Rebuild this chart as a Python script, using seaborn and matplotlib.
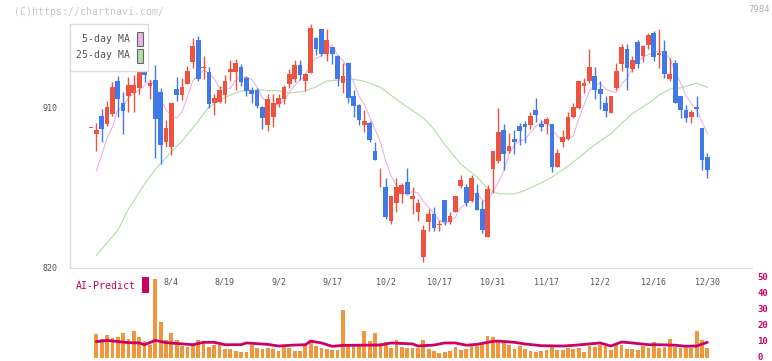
import numpy as np
import pandas as pd
import matplotlib
matplotlib.use("Agg")
import matplotlib.pyplot as plt
from matplotlib.patches import Rectangle
from matplotlib.transforms import blended_transform_factory
import seaborn as sns

# ---------------- data (first entry = partial bar at the left edge) ----------------
opens = [898.1, 895.1, 905.0, 900.5, 906.1, 924.5, 912.2, 916.2, 918.0, 920.9, 933.5,
         922.0, 925.1, 918.4, 890.2, 887.8, 920.1, 916.7, 922.9, 935.4, 947.5,
         931.8, 929.6, 912.2, 913.0, 916.7, 929.7, 929.7, 932.5, 926.0, 919.5,
         919.5, 910.0, 899.9, 904.2, 911.8, 914.6, 923.0, 925.7, 933.3, 924.5,
         929.2, 948.4, 953.6, 939.8, 943.4, 938.5, 923.2, 934.8, 916.2, 911.1,
         899.9, 900.9, 885.4, 875.7, 865.1, 846.3, 856.1, 861.6, 868.1, 858.7,
         851.5, 826.0, 845.9, 850.2, 843.9, 857.8, 845.9, 851.5, 865.8, 865.3,
         857.7, 861.9, 853.0, 837.5, 875.3, 880.0, 897.1, 885.2, 892.1, 899.5,
         900.3, 899.9, 908.3, 900.5, 900.3, 900.5, 876.6, 890.4, 892.1, 904.6,
         909.3, 921.9, 924.5, 927.3, 919.9, 912.2, 906.8, 920.5, 934.2, 942.4,
         931.1, 946.3, 938.5, 944.7, 951.2, 938.9, 941.3, 925.7, 934.8, 916.2,
         908.3, 904.6, 910.0, 898.4, 882.2]
highs = [898.1, 900.9, 908.9, 913.4, 924.0, 927.6, 918.4, 926.8, 927.9, 937.4, 935.7,
         925.1, 933.5, 920.6, 902.7, 912.2, 926.8, 926.2, 932.9, 948.8, 949.7,
         938.5, 932.4, 917.3, 921.7, 927.9, 936.3, 936.8, 934.0, 927.3, 921.3,
         920.6, 910.6, 917.3, 917.3, 917.3, 922.3, 931.1, 936.3, 936.3, 928.8,
         956.4, 949.3, 953.6, 953.6, 943.7, 938.8, 934.6, 935.3, 919.5, 911.7,
         908.3, 902.2, 890.6, 875.9, 870.1, 860.2, 870.3, 867.5, 875.9, 865.1,
         858.4, 844.0, 853.0, 853.9, 846.8, 858.0, 851.5, 860.2, 872.0, 867.0,
         872.0, 867.0, 858.0, 866.4, 885.4, 909.6, 900.5, 895.7, 897.1, 901.3,
         902.2, 907.2, 915.2, 903.0, 904.6, 900.5, 886.8, 897.1, 907.4, 912.4,
         924.8, 926.4, 942.4, 932.5, 924.5, 916.2, 916.2, 934.6, 945.2, 945.2,
         938.5, 947.5, 944.7, 951.5, 952.5, 953.6, 947.5, 937.6, 936.3, 916.2,
         911.1, 908.3, 916.2, 898.4, 884.5]
lows = [898.1, 885.4, 890.6, 899.4, 905.0, 904.4, 894.9, 907.2, 907.2, 917.3, 924.0,
        914.5, 881.5, 878.1, 887.6, 883.2, 913.4, 913.9, 922.9, 931.8, 924.5,
        925.7, 909.4, 905.5, 912.2, 912.2, 924.5, 919.5, 921.7, 916.2, 912.2,
        909.4, 897.7, 896.8, 899.0, 910.0, 911.7, 920.6, 924.0, 925.1, 919.1,
        929.0, 939.1, 938.5, 935.9, 934.0, 921.7, 918.0, 912.1, 904.6, 899.9,
        896.0, 890.6, 880.4, 865.1, 847.4, 844.6, 851.5, 856.5, 861.4, 850.0,
        846.3, 823.5, 840.9, 840.9, 840.9, 844.0, 844.6, 851.5, 864.7, 854.8,
        856.9, 852.6, 839.7, 837.5, 861.8, 878.7, 874.8, 884.1, 883.7, 889.0,
        890.0, 897.7, 901.8, 896.6, 895.1, 873.8, 876.6, 887.5, 891.3, 904.1,
        908.7, 918.0, 923.2, 914.3, 908.9, 904.6, 906.8, 919.5, 930.1, 919.5,
        929.7, 931.8, 935.4, 942.3, 935.7, 932.0, 926.0, 924.7, 912.1, 903.9,
        901.8, 900.9, 904.6, 874.8, 870.5]
closes = [898.1, 897.1, 897.9, 910.0, 921.2, 914.5, 907.8, 922.3, 922.3, 930.1, 927.9,
          923.4, 903.3, 888.8, 898.4, 912.2, 916.7, 921.2, 930.1, 944.1, 925.7,
          932.4, 911.7, 915.0, 919.5, 924.5, 931.2, 934.8, 924.1, 919.1, 917.3,
          910.6, 904.0, 914.5, 912.1, 915.0, 921.2, 928.3, 933.3, 927.9, 928.4,
          954.2, 942.3, 939.8, 947.5, 939.8, 925.7, 927.3, 914.8, 910.6, 902.7,
          902.3, 891.6, 880.4, 875.9, 848.7, 860.2, 865.3, 866.4, 861.5, 860.4,
          856.3, 841.2, 850.2, 842.5, 844.0, 845.9, 849.1, 860.2, 869.2, 856.5,
          870.5, 852.7, 841.2, 864.2, 885.4, 896.2, 883.9, 888.2, 890.4, 896.6,
          899.0, 905.0, 905.5, 899.0, 903.3, 876.6, 884.3, 893.2, 904.6, 909.9,
          924.5, 923.6, 932.5, 919.5, 917.1, 907.9, 916.2, 930.1, 943.5, 932.0,
          936.3, 934.0, 944.1, 950.2, 938.1, 940.4, 928.3, 928.4, 912.1, 908.3,
          904.0, 907.2, 909.1, 880.4, 874.8]
volumes = [np.nan, 15.0, 11.9, 14.4, 12.5, 13.1, 15.6, 11.9, 16.9, 13.1, 10.6, 8.1,
           49.4, 22.5, 11.3, 15.6, 11.3, 7.5, 6.9, 8.1, 11.3, 10.0, 6.9, 8.1, 8.1,
           5.6, 5.6, 4.4, 3.8, 3.8, 8.1, 6.3, 5.6, 6.3, 5.6, 4.4, 6.9, 6.3, 4.4,
           4.4, 8.1, 11.3, 7.5, 6.3, 5.6, 5.0, 5.0, 30.0, 7.5, 7.5, 7.5, 16.9,
           10.6, 15.6, 9.4, 10.0, 6.3, 11.3, 6.9, 6.3, 6.3, 6.3, 11.3, 5.6, 4.4,
           3.1, 3.8, 4.4, 6.9, 5.0, 5.6, 7.5, 7.5, 8.8, 13.8, 13.1, 11.3, 10.0,
           8.1, 5.6, 7.5, 5.6, 4.4, 3.8, 4.4, 5.0, 6.9, 5.0, 5.0, 6.3, 5.6, 6.3,
           3.8, 7.5, 6.9, 8.1, 7.5, 5.0, 8.1, 8.1, 5.6, 5.6, 5.0, 7.5, 6.3, 10.0,
           6.3, 6.9, 11.9, 6.9, 6.3, 6.3, 6.3, 16.9, 11.3, 6.3]

# 5-day MA values read at the first four bars (earlier closes are off-chart)
ma5_head = [874.2, 883.2, 892.7, 898.8]
# 25-day MA (bar position, value)
ma25_pos = [1, 3, 5, 7, 10, 12, 15, 17, 20, 22, 25, 28, 32, 35, 37, 40, 42, 44, 46, 49,
            51, 54, 56, 59, 62, 64, 66, 69, 72, 74, 76, 79, 81, 84, 86, 89, 91, 94, 97,
            99, 101, 104, 106, 108, 110, 113, 115]
ma25_val = [827, 834, 841, 853, 867, 875, 885, 891, 902, 910, 915.5, 919, 919.5, 919,
            917.7, 919, 921.3, 924.5, 925, 925.5, 924.4, 921, 916.5, 910, 904, 897.5,
            889, 878, 871, 864.5, 861.5, 861.4, 863.4, 867.6, 870.7, 877, 881.6, 889,
            895, 901, 906.3, 912, 916.7, 920, 920.7, 923.3, 921]
# AI-Predict line (bar position, value)
ai_pos = [1, 3, 7, 9, 10, 12, 14, 19, 21, 23, 25, 28, 29, 33, 35, 38, 40, 41, 43, 45,
          47, 54, 56, 60, 61, 64, 66, 68, 70, 72, 75, 76, 79, 81, 84, 88, 90, 92, 95,
          97, 99, 101, 104, 106, 109, 111, 113, 115]
ai_val = [10.2, 11, 9.6, 9.4, 8.3, 11, 9.6, 8.3, 9.8, 9.8, 8.3, 8.3, 9.4, 8.5, 7.5,
          8.1, 8.3, 10.6, 9.4, 7.3, 7.9, 8.1, 9.4, 8.8, 7.5, 8.1, 9.4, 9.4, 8.0, 8.5,
          10.4, 10.6, 9.8, 8.75, 7.7, 7.5, 7.9, 8.5, 9.4, 7.5, 10, 9.4, 8.3, 8.3, 8.0,
          7.3, 7.5, 9.8]
date_labels = ["8/4", "8/19", "9/2", "9/17", "10/2", "10/17", "10/31", "11/17",
               "12/2", "12/16", "12/30"]
date_pos = [15, 25, 35, 45, 55, 65, 75, 85, 95, 105, 115]
price_ticks = [820, 910]
vol_ticks = [50, 40, 30, 20, 10, 0]

# ---------------- styling ----------------
sns.set_theme(style="white")
plt.rcParams["font.family"] = ["DejaVu Sans Mono", "DejaVu Sans"]

UP, DOWN = "#ef5340", "#4279e8"
PINK, GREEN = "#e8b4ea", "#b2dca6"
VOLC, MAG = "#f0963c", "#cc0066"
GRID = "#dddddd"
TXT = "#555555"

W, H = 772, 361
fig = plt.figure(figsize=(W / 100, H / 100), dpi=100)


def box(l, t, r, b):
    return [l / W, 1 - b / H, (r - l) / W, (b - t) / H]


ax = fig.add_axes(box(70, 24, 752, 268))
axv = fig.add_axes(box(70, 278, 752, 358))

n = len(closes)
pos = np.arange(n)
xlim = (-3.91, 123.33)

df = pd.DataFrame({"pos": pos, "open": opens, "high": highs, "low": lows,
                   "close": closes, "vol": volumes})
ma5 = df["close"].rolling(5).mean()
ma5.iloc[1:5] = ma5_head
df["ma5"] = ma5

# moving averages
sns.lineplot(data=df.dropna(subset=["ma5"]), x="pos", y="ma5", ax=ax, color=PINK,
             lw=0.8, zorder=1, estimator=None, sort=True)
sns.lineplot(x=ma25_pos, y=ma25_val, ax=ax, color=GREEN, lw=0.8, zorder=1,
             estimator=None)

# candles
up = df["close"] >= df["open"]
colors = np.where(up, UP, DOWN)
body_lo = np.minimum(df["open"], df["close"])
body_h = np.maximum(np.abs(df["close"] - df["open"]), 0.45)
ax.vlines(df["pos"], df["low"], df["high"], colors=colors, lw=1.0, zorder=2,
          clip_on=False)
ax.bar(df["pos"], body_h, bottom=body_lo, width=0.88, color=colors, lw=0,
       zorder=3, clip_on=False)

ax.set_xlim(*xlim)
ax.set_ylim(820, 956.4)
for s in ["top", "right"]:
    ax.spines[s].set_visible(False)
for s in ["left", "bottom"]:
    ax.spines[s].set_color(GRID)
    ax.spines[s].set_linewidth(1)
ax.set_yticks(price_ticks)
ax.set_yticklabels([str(t) for t in price_ticks])
ax.set_xticks(np.linspace(xlim[0], xlim[1], 12))
ax.set_xticklabels([])
ax.tick_params(axis="y", direction="inout", length=6, width=1, color=GRID,
               labelsize=6, labelcolor=TXT, pad=6)
ax.tick_params(axis="x", direction="inout", length=6, width=1, color=GRID)
ax.set_xlabel("")
ax.set_ylabel("")

# date labels
tr = blended_transform_factory(ax.transData, fig.transFigure)
for p, lab in zip(date_pos, date_labels):
    ax.text(p, 1 - 282 / H, lab, transform=tr, ha="center", va="center",
            fontsize=6, color=TXT, clip_on=False)

# volume panel
axv.bar(df["pos"], df["vol"], width=0.7, color=VOLC, lw=0, zorder=1)
sns.lineplot(x=ai_pos, y=ai_val, ax=axv, color=MAG, lw=2.0, zorder=2,
             estimator=None)
axv.set_xlim(*xlim)
axv.set_ylim(0, 50)
axv.axis("off")
trv = blended_transform_factory(fig.transFigure, axv.transData)
for v in vol_ticks:
    axv.text(757 / W, v, str(v), transform=trv, ha="left", va="center",
             fontsize=6.5, color=MAG, fontweight="bold", clip_on=False)

# legend box
ft = fig.transFigure


def fx(px):
    return px / W


def fy(py):
    return 1 - py / H


fig.patches.append(Rectangle((fx(70), fy(71)), fx(148) - fx(70), fy(24) - fy(71),
                             transform=ft, facecolor="white", edgecolor=GRID,
                             lw=1, zorder=5))
for label, col, yc in [("5-day MA", PINK, 38.5), ("25-day MA", GREEN, 55.5)]:
    fig.text(fx(130), fy(yc), label, ha="right", va="center", fontsize=7.1,
             color=TXT, zorder=6)
    fig.patches.append(Rectangle((fx(136.5), fy(yc + 7)), fx(6), 14 / H,
                                 transform=ft, facecolor=col, edgecolor="#666666",
                                 lw=0.8, zorder=6))

# texts
fig.text(fx(14), fy(12), "(C)https://chartnavi.com/", ha="left", va="center",
         fontsize=7.1, color="#c8c8c8")
fig.text(fx(770), fy(10), "7984", ha="right", va="center", fontsize=6.5,
         color="#b0b0b0")
fig.text(fx(76), fy(286), "AI-Predict", ha="left", va="center", fontsize=7.1,
         color=MAG)
fig.patches.append(Rectangle((fx(142), fy(293)), fx(7), 16 / H, transform=ft,
                             facecolor=MAG, edgecolor="none", zorder=6))

fig.savefig("out.png", dpi=100, facecolor="white")
